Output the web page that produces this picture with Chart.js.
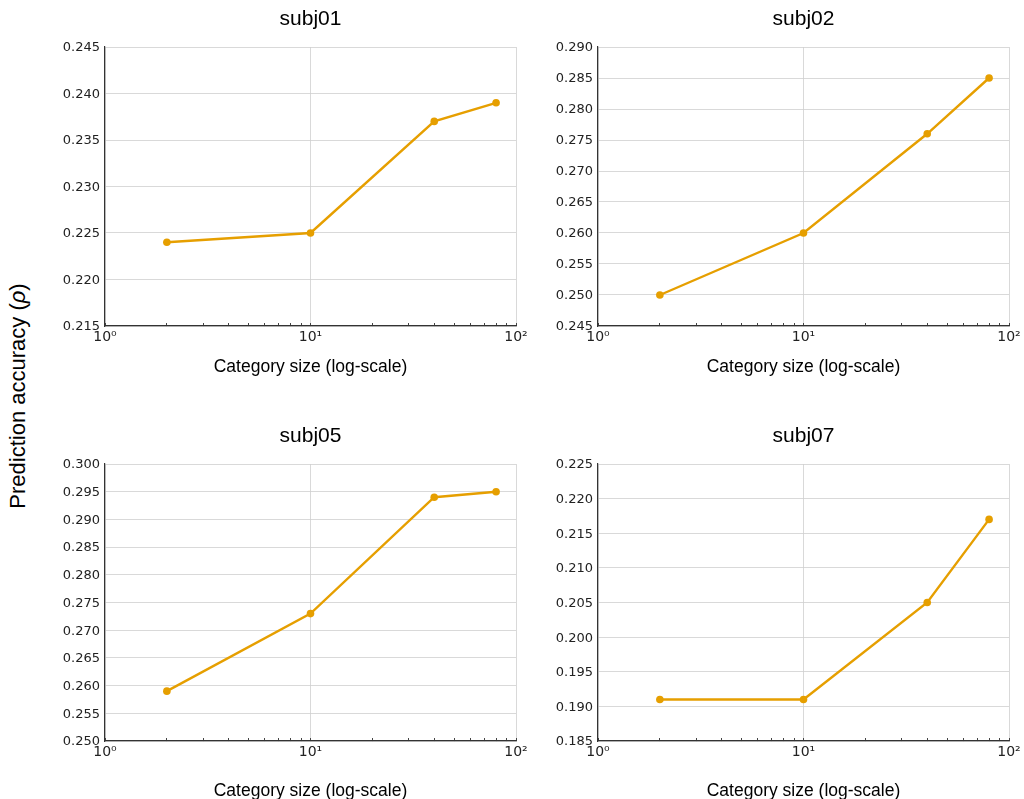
<!DOCTYPE html>
<html>
<head>
<meta charset="utf-8">
<script src="https://cdn.jsdelivr.net/npm/chart.js@4.4.1/dist/chart.umd.min.js"></script>
<style>
html, body { margin: 0; padding: 0; background: #fff; overflow: hidden; }
#page { position: relative; width: 1024px; height: 799px; overflow: hidden; }
.panel { position: absolute; }
#ylabel {
	position: absolute; left: 18px; top: 396px;
	transform: translate(-50%, -50%) rotate(-90deg);
	white-space: nowrap; color: #000;
	font-family: "Liberation Sans", Arial, sans-serif; font-size: 22px;
}
</style>
</head>
<body>
<div id="page">
	<div id="ylabel">Prediction accuracy (<i>ρ</i>)</div>
	<canvas class="panel" id="c0" width="540" height="400" style="left:0px;top:0px"></canvas>
	<canvas class="panel" id="c1" width="500" height="400" style="left:540px;top:0px"></canvas>
	<canvas class="panel" id="c2" width="540" height="400" style="left:0px;top:417px"></canvas>
	<canvas class="panel" id="c3" width="500" height="400" style="left:540px;top:417px"></canvas>
</div>
<script>
// data
const categorySizes = [2, 10, 40, 80];
const subjects = ["subj01", "subj02", "subj05", "subj07"];
const subj01 = [0.224, 0.225, 0.237, 0.239];
const subj02 = [0.250, 0.260, 0.276, 0.285];
const subj05 = [0.259, 0.273, 0.294, 0.295];
const subj07 = [0.191, 0.191, 0.205, 0.217];
const yRanges = [[0.215, 0.245], [0.245, 0.290], [0.250, 0.300], [0.185, 0.225]];
const yStep = 0.005;
const xTickValues = [1, 2, 3, 4, 5, 6, 7, 8, 9, 10, 20, 30, 40, 50, 60, 70, 80, 90, 100];
const xTickLabels = { 1: "10⁰", 10: "10¹", 100: "10²" };
const xTitle = "Category size (log-scale)";

const ORANGE = "#E69F00";
const GRID = "#cfcfcf";
const SANS = "'Liberation Sans', Arial, sans-serif";

// panel geometry (pixels inside each canvas)
const boxes = [
	{ yAxisWidth: 105, padRight: 24, xAxisHeight: 74, xTitlePad: 22 },
	{ yAxisWidth: 58, padRight: 31, xAxisHeight: 74, xTitlePad: 22 },
	{ yAxisWidth: 105, padRight: 24, xAxisHeight: 76, xTitlePad: 15 },
	{ yAxisWidth: 58, padRight: 31, xAxisHeight: 76, xTitlePad: 15 },
];

function makeChart(idx, values) {
	const box = boxes[idx];
	const range = yRanges[idx];
	const ctx = document.getElementById("c" + idx).getContext("2d");
	return new Chart(ctx, {
		type: "line",
		data: {
			datasets: [{
				data: categorySizes.map((x, i) => ({ x: x, y: values[i] })),
				borderColor: ORANGE,
				backgroundColor: ORANGE,
				borderWidth: 2.4,
				pointRadius: 3.8,
				pointHoverRadius: 3.8,
				pointBorderWidth: 0,
				tension: 0,
			}],
		},
		options: {
			responsive: false,
			animation: false,
			events: [],
			layout: { padding: { left: 0, right: box.padRight, top: 0, bottom: 0 } },
			plugins: {
				legend: { display: false },
				tooltip: { enabled: false },
				title: {
					display: true,
					fullSize: false,
					text: subjects[idx],
					color: "#000",
					font: { family: SANS, size: 21, weight: "normal" },
					padding: { top: 7, bottom: 47 - 7 - 25.2 },
				},
			},
			scales: {
				x: {
					type: "logarithmic",
					min: 1,
					max: 100,
					afterBuildTicks: (s) => {
						s.ticks = xTickValues.map((v) => ({ value: v, major: v in xTickLabels }));
					},
					afterFit: (s) => { s.height = box.xAxisHeight; },
					border: { color: "#333", width: 1.2 },
					grid: {
						color: (c) => (c.tick && c.tick.major ? GRID : "rgba(0,0,0,0)"),
						lineWidth: 0.8,
						borderDash: [2.5, 2],
						tickLength: -3,
						tickColor: "#444",
						tickWidth: 1,
						tickBorderDash: [],
					},
					ticks: {
						autoSkip: false,
						maxRotation: 0,
						padding: 6,
						color: "#222",
						font: { family: "'DejaVu Sans'", size: 14 },
						callback: (v) => xTickLabels[v] || "",
					},
					title: {
						display: true,
						text: xTitle,
						color: "#000",
						font: { family: SANS, size: 17.5 },
						padding: { top: 0, bottom: box.xTitlePad },
					},
				},
				y: {
					type: "linear",
					min: range[0],
					max: range[1],
					afterFit: (s) => { s.width = box.yAxisWidth; },
					border: { color: "#333", width: 1.2 },
					grid: {
						color: GRID,
						lineWidth: 0.8,
						borderDash: [2.5, 2],
						drawTicks: false,
					},
					ticks: {
						stepSize: yStep,
						padding: 5,
						labelOffset: 1,
						color: "#222",
						font: { family: "'DejaVu Sans'", size: 13 },
						callback: (v) => v.toFixed(3),
					},
				},
			},
		},
	});
}

makeChart(0, subj01);
makeChart(1, subj02);
makeChart(2, subj05);
makeChart(3, subj07);
</script>
</body>
</html>
